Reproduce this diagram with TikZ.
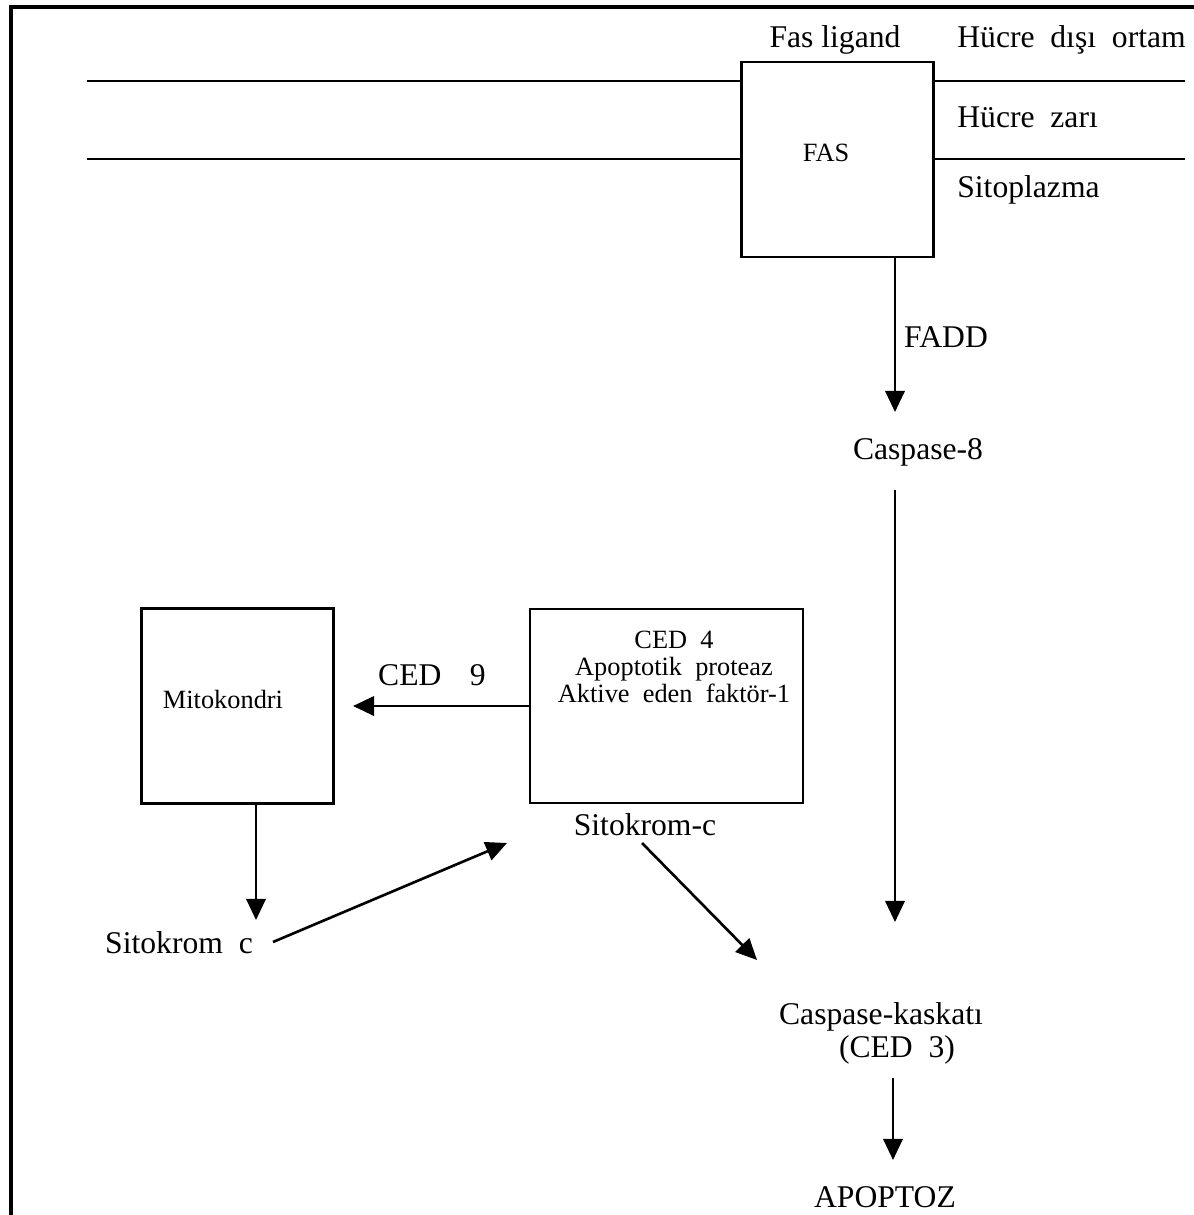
\documentclass[tikz,border=0pt]{standalone}
\usepackage{fontspec}
\setmainfont{Liberation Serif}
\usepackage{tikz}
\usetikzlibrary{arrows.meta, positioning}

\begin{document}
\begin{tikzpicture}[
    x=0.02cm, y=-0.02cm,
    >={Triangle[length=12pt, width=11pt]},
    kutu/.style={draw, line width=1.3pt, minimum width=3.84cm, minimum height=3.9cm, inner sep=0pt},
    yazi/.style={font=\fontsize{18}{21}\selectfont, inner sep=0pt},
    kucuk/.style={font=\fontsize{15}{15.5}\selectfont, inner sep=0pt, align=center},
    ok/.style={->, line width=1.5pt},
    zar/.style={line width=1.3pt}
]
\useasboundingbox (0,0) rectangle (1194,1215);

% === cerceve ===
\draw[line width=2pt] (11,1215) -- (11,7) -- (1194,7);

% === kutular ===
\node[kutu] (fas) at (837.5,159.5) {};
\node[kutu] (mito) at (237.5,706) {};
\node[kutu, minimum width=5.46cm, minimum height=3.88cm] (ced4) at (666.5,706) {};

\node[kucuk] (fastext) at (826,153) {FAS};
\node[kucuk] (mitotext) at (223,699) {Mitokondri};
\node[kucuk] (ced4text) at (674,667) {CED~~4\\Apoptotik~~proteaz\\Aktive~~eden~~faktör-1};

% === hucre zari ===
\coordinate (zar1L) at (87,81);
\coordinate (zar1R) at (1185,81);
\coordinate (zar2L) at (87,159);
\coordinate (zar2R) at (1185,159);
\draw[zar] (zar1L) -- (zar1L -| fas.west);
\draw[zar] (zar1R -| fas.east) -- (zar1R);
\draw[zar] (zar2L) -- (zar2L -| fas.west);
\draw[zar] (zar2R -| fas.east) -- (zar2R);

% === yazilar ===
\node[yazi] (ligand) at (835,40) {Fas ligand};
\node[yazi, anchor=west] (disi) at (957,40) {Hücre~~dışı~~ortam};
\node[yazi, anchor=west] (zari) at (957,117) {Hücre~~zarı};
\node[yazi, anchor=west] (sito) at (957,190) {Sitoplazma};
\node[yazi] (fadd) at (946,337) {FADD};
\node[yazi] (casp8) at (918,452) {Caspase-8};
\node[yazi] (ced9) at (432,675) {CED\hspace{0.9em}9};
\node[yazi] (sitoc) at (645,825) {Sitokrom-c};
\node[yazi] (sitokrom) at (179,943) {Sitokrom~~c};
\node[yazi] (kask) at (881,1017) {Caspase-kaskatı};
\node[yazi] (ced3) at (897,1050) {(CED~~3)};
\node[yazi] (apoptoz) at (885,1197) {APOPTOZ};

% === oklar ===
\coordinate (t1) at (895,412);
\coordinate (s2) at (895,490);
\coordinate (t2) at (895,922);
\coordinate (s3) at (893,1078);
\coordinate (t3) at (893,1160);
\coordinate (t4) at (353,707);
\coordinate (t5) at (256,920);
\coordinate (s6) at (273,942);
\coordinate (t6) at (507,843);
\coordinate (s7) at (642,843);
\coordinate (t7) at (757,960);

\draw[ok] (fas.south -| t1) -- (t1);
\draw[ok] (s2) -- (t2);
\draw[ok] (s3) -- (t3);
\draw[ok] (ced4.west) -- (ced4.west -| t4);
\draw[ok] (mito.south -| t5) -- (t5);
\draw[ok] (s6) -- (t6);
\draw[ok] (s7) -- (t7);

\end{tikzpicture}
\end{document}
